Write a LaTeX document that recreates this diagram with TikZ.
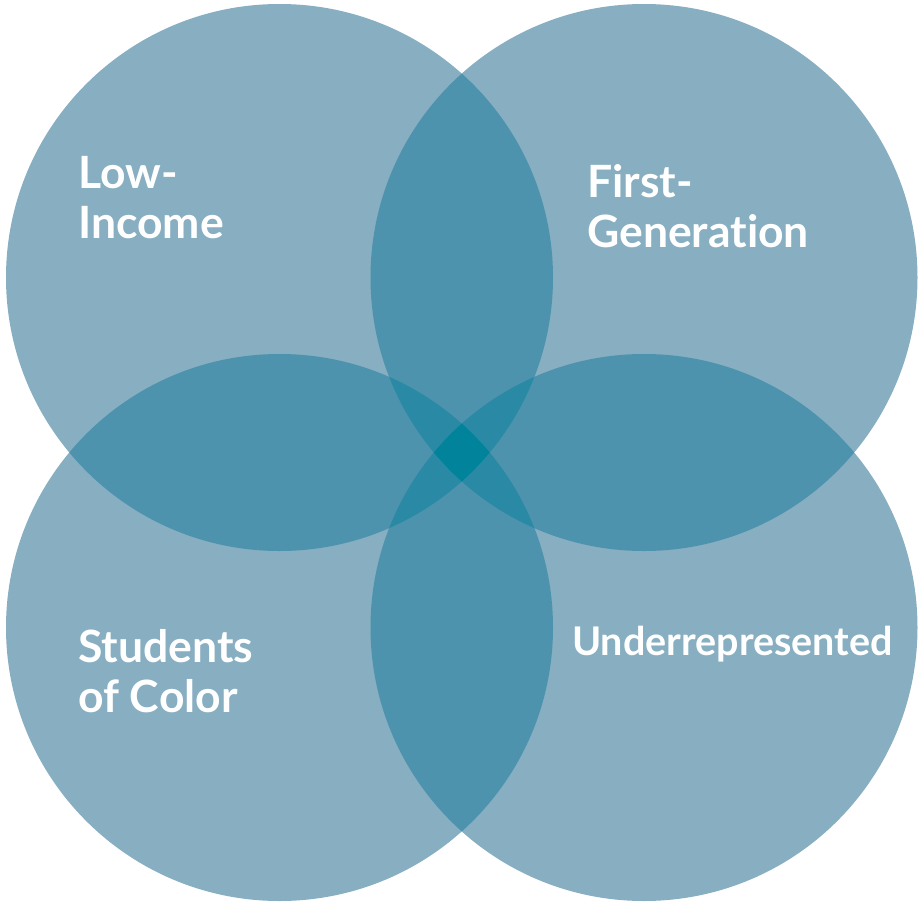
\documentclass[tikz,border=0pt]{standalone}
\usepackage{fontspec}
\setmainfont{Lato}[Ligatures={NoCommon,TeX}]
\usetikzlibrary{positioning}
\definecolor{oneset}{HTML}{87AEC1}
\definecolor{twoset}{HTML}{4E93AD}
\definecolor{threeset}{HTML}{2A8AA5}
\definecolor{fourset}{HTML}{00839B}
\tikzset{group label/.style={text=white, font=\fontsize{44.5}{50}\selectfont\bfseries,
    align=left, anchor=base west, inner sep=0pt}}

\begin{document}
\begin{tikzpicture}[x=1pt, y=-1pt]
   \useasboundingbox (0,0) rectangle (922,908);
   \def\rad{273.5pt}
   \coordinate (li) at (279.5,277.5);
   \coordinate (fg) at (644,277.5);
   \coordinate (sc) at (279.5,627.5);
   \coordinate (ur) at (644,627.5);
   % the four circles
   \foreach \c in {li,fg,sc,ur}
     \fill[oneset] (\c) circle (\rad);
   % two sets
   \foreach \a/\b in {li/fg,li/sc,li/ur,fg/sc,fg/ur,sc/ur} {
     \begin{scope}
       \clip (\a) circle (\rad);
       \fill[twoset] (\b) circle (\rad);
     \end{scope}
   }
   % three sets
   \foreach \a/\b/\c in {li/fg/sc,li/fg/ur,li/sc/ur,fg/sc/ur} {
     \begin{scope}
       \clip (\a) circle (\rad);
       \clip (\b) circle (\rad);
       \fill[threeset] (\c) circle (\rad);
     \end{scope}
   }
   % all four
   \begin{scope}
     \clip (li) circle (\rad);
     \clip (fg) circle (\rad);
     \clip (sc) circle (\rad);
     \fill[fourset] (ur) circle (\rad);
   \end{scope}
   \node[group label] (low) at (78,238) {Low-\\Income};
   \node[group label] (first) at (587,247) {First-\\Generation};
   \node[group label] (color) at (78,712) {Students\\of Color};
   \node[group label, font=\fontsize{39.5}{46}\selectfont\bfseries] (under) at (572,655) {Underrepresented};
\end{tikzpicture}
\end{document}
